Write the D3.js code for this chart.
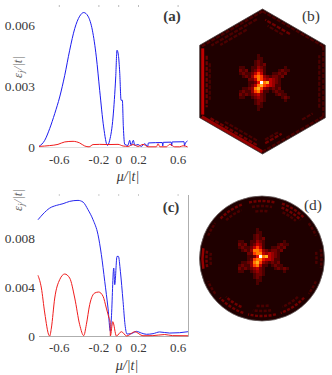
<!DOCTYPE html>
<html><head><meta charset="utf-8">
<script src="https://cdnjs.cloudflare.com/ajax/libs/d3/7.8.5/d3.min.js"></script>
<style>html,body{margin:0;padding:0;background:#fff}svg{display:block}svg text{font-family:"Liberation Serif","Times New Roman",serif !important;fill:#3a3a3a}</style>
</head><body><svg id="c" width="332" height="375"><defs><filter id="soft" x="-5%" y="-5%" width="110%" height="110%"><feGaussianBlur stdDeviation="0.4"/></filter></defs></svg>
<script>
const muBlueA=[-.80,-.742,-.692,-.641,-.591,-.54,-.49,-.439,-.389,-.348,-.305,-.261,-.221,-.187,-.147,-.109,-.086,-.052,-.025,-.012,.002,.015,.029,.042,.052,.066,.099,.116,.13,.153,.167,.2,.234,.268,.298,.305,.445,.45,.455,.535,.54,.545,.665,.67,.675,.70];
const blueA=[.00003,.00033,.00091,.00165,.00247,.00354,.00478,.00585,.00646,.00664,.00646,.00577,.00445,.0028,.00099,.00008,.00033,.00148,.00346,.00478,.00453,.00371,.00231,.00231,.00099,.00013,.00008,.00033,.00008,.00033,.00008,.00012,.00003,.00016,.00003,.0002,.00022,.00005,.00023,.00024,.00005,.00025,.00026,.00005,.00015,.0003];
const muRedA=[-.80,-.692,-.608,-.54,-.456,-.389,-.338,-.294,-.254,-.187,-.103,-.002,.049,.099,.15,.2,.251,.301,.386,.403,.42,.487,.52,.571,.621,.655,.7];
const redA=[.00003,.00007,.00013,.00025,.00028,.0002,.00005,.00001,.00012,.00013,.00012,.00013,.00005,.00003,.00012,.00003,.00013,.00001,.00001,.00016,.00001,.00001,.00013,.00001,.00001,.00006,.00001];
const muBlueC=[-.81,-.759,-.692,-.625,-.557,-.49,-.406,-.355,-.305,-.254,-.204,-.17,-.136,-.103,-.079,-.069,-.045,-.035,-.012,.002,.022,.049,.069,.089,.133,.184,.234,.285,.352,.419,.52,.621,.705];
const blueC=[.00949,.00996,.01044,.01066,.0108,.01099,.01107,.01093,.01031,.00949,.00827,.00664,.00446,.00228,.00038,.00147,.00555,.00419,.0065,.0065,.00528,.00283,.00092,.00016,.00019,.00038,.00024,.00014,.00019,.00033,.00024,.00027,.00035];
const muRedC=[-.81,-.776,-.742,-.699,-.692,-.675,-.641,-.591,-.54,-.49,-.439,-.389,-.348,-.322,-.288,-.237,-.197,-.153,-.12,-.093,-.082,-.079,-.055,-.018,.032,.086,.167,.25,.35,.47,.55,.705];
const redC=[.00495,.00392,.00188,.00005,0,.00065,.0031,.0046,.00506,.00473,.0031,.00092,.00003,.00092,.00256,.00351,.00359,.00324,.00228,.00147,.00117,0,.00117,0,.00035,0,.00035,.00002,.00003,.00012,.00003,.00002];
const xTicks=[-.6,-.2,0,.2,.6];
const yTicksA=[0,.003,.006];
const yTicksC=[0,.004,.008];
const yTickLabelsA=["0","0.003","0.006"];
const yTickLabelsC=["0","0.004","0.008"];
const starB=[
"00000000000000000000",
"00000000100000000000",
"00000000110000000000",
"00000001210000000000",
"00000001212000000000",
"00110011321000000100",
"00212012431000012110",
"00121124641001121200",
"00012136763212212000",
"00000224764343210000",
"00000112597843210000",
"00000124786543110000",
"00011237863212120000",
"00121136741101211000",
"00212123421000121100",
"00110012321000001210",
"00000001221000000100",
"00000001210000000000",
"00000000110000000000",
"00000000100000000000"];
const starD=[
"00000000100000000000",
"00000000110000000000",
"00000001210000000000",
"00000001212000000000",
"00110011321000000100",
"00212012431000012110",
"00121124641001121200",
"00012137763212212000",
"00000226774343210000",
"00000112597843210000",
"00000126775443110000",
"00011237863212120000",
"00121136741101211000",
"00212123421000121210",
"00110012321000000100",
"00000001221000000000",
"00000001210000000000",
"00000000110000000000",
"00000000100000000000",
"00000000000000000000"];
// side, from, to, depth(px), level
const hexSide=[[0,.02,.98,3,4],[0,.1,.9,7,2],[0,.2,.8,10,1],[1,0,1,2,3],[1,.1,.9,5,2],[1,.3,.9,9,1],
[2,0,1,2,1],[2,.05,.35,8,2],[2,.05,.3,11,1],[2,.75,.95,10,1],[3,0,1,2,1],[3,.1,.9,6,1],[4,0,1,2,1],[4,.5,.95,8,2],[4,.6,.9,12,1],[5,0,1,2,1],[5,.1,.9,6,1],[5,.3,.8,10,1]];
// centre angle, half span, depth(px), level
const circPatch=[[180,10,3,3],[180,9,7,2],[180,7,11,1],[0,9,3,1],[0,7,8,1],[57,13,4,2],[57,12,8,2],[57,9,12,1],[90,13,5,2],[90,11,10,1],[90,8,15,1],[123,13,5,2],[123,10,10,1],[237,14,5,2],[237,10,10,2],[270,14,5,2],[270,10,10,1],[270,8,15,1],[303,14,5,2],[303,10,10,1],[150,7,4,1],[210,7,4,1],[30,7,4,1],[330,7,4,1]];
const levels=[0,1,2,3,4,5,6,7,8,9];
const heat=d3.scaleOrdinal().domain(levels).range(["#1f0000","#4c0000","#700000","#960000","#c00000","#e81000","#ff3a00","#ff7a00","#ffb020","#ffffff"]);

const svg=d3.select("#c");
const x=d3.scaleLinear().domain([-.8,.7]).range([39,187.5]);
const yA=d3.scaleLinear().domain([0,.006]).range([147,25.5]);
const yC=d3.scaleLinear().domain([0,.008]).range([336,238]);

function panel(y,yt,ytl,series,labelY,tag,tagX,tagY){
  const g=svg.append("g");
  const ax=d3.axisBottom(x).tickValues(xTicks).tickSize(0).tickPadding(0).tickFormat(d=>d===0?"0":d3.format(".1f")(d).replace("−","-"));
  const ga=g.append("g").attr("transform",`translate(0,${labelY})`).call(ax);
  ga.select(".domain").remove();
  ga.selectAll("text").attr("y",0).attr("dy",0).attr("font-size",13);
  const ay=d3.axisLeft(y).tickValues(yt).tickSize(0).tickPadding(0).tickFormat((d,i)=>ytl[i]);
  const gy=g.append("g").attr("transform","translate(35,0)").call(ay);
  gy.select(".domain").remove();
  gy.selectAll("text").attr("font-size",13.4);
  series.forEach(s=>{
    g.append("path").datum(d3.zip(s.mu,s.v)).attr("fill","none").attr("stroke",s.c).attr("stroke-width",1).attr("stroke-linejoin","round")
     .attr("d",d3.line().curve(d3.curveMonotoneX).x(d=>x(d[0])).y(d=>y(d[1])));
  });
  g.append("text").attr("x",tagX).attr("y",tagY).attr("font-size",15).attr("font-weight","bold").attr("text-anchor","middle").text(tag);
}
function eps(cx,cy){
  const t=svg.append("text").attr("transform",`translate(${cx},${cy}) rotate(-90)`).attr("text-anchor","middle").attr("font-size",13).attr("font-style","italic").style("fill","#666");
  t.append("tspan").text("ε");
  t.append("tspan").attr("font-size",9).attr("dy",2).text("j");
  t.append("tspan").attr("dy",-2).text("/|t|");
}
function mu(cx,cy){
  svg.append("text").attr("x",cx).attr("y",cy).attr("text-anchor","middle").attr("font-size",14).attr("font-style","italic").text("μ/|t|");
}
const topAxis=d3.axisTop(x).tickValues(xTicks).tickSize(2).tickFormat("");
const ta=svg.append("g").attr("transform","translate(0,7)").call(topAxis);
ta.select(".domain").remove(); ta.selectAll("line").attr("stroke","#bbb");
const ta2=svg.append("g").attr("transform","translate(0,196)").call(topAxis);
ta2.select(".domain").remove(); ta2.selectAll("line").attr("stroke","#ccc");
svg.append("path").attr("d",d3.line()([[x.range()[0],yC(0)+.5],[x.range()[1]+1,yC(0)+.5],[x.range()[1]+1,195]])).attr("fill","none").attr("stroke","#999").attr("stroke-width",.8);
svg.append("line").attr("x1",39).attr("x2",188).attr("y1",yA(0)+.5).attr("y2",yA(0)+.5).attr("stroke","#ccc").attr("stroke-width",.6);

panel(yA,yTicksA,yTickLabelsA,[{mu:muBlueA,v:blueA,c:"#1c1cf0"},{mu:muRedA,v:redA,c:"#f01c1c"}],164,"(a)",172,21);
panel(yC,yTicksC,yTickLabelsC,[{mu:muBlueC,v:blueC,c:"#2626ee"},{mu:muRedC,v:redC,c:"#f01c1c"}],352,"(c)",171,212);
eps(22,67); eps(22,200); mu(128,181); mu(127,370);

function star(grid,cx,cy,layer){
  const n=grid.length, cs=3;
  const bx=d3.scaleBand().domain(d3.range(n)).range([cx-n*cs/2,cx+n*cs/2]);
  const by=d3.scaleBand().domain(d3.range(n)).range([cy-n*cs/2,cy+n*cs/2]);
  grid.forEach((row,r)=>{
    layer.append("g").selectAll("rect").data(row.split("").map((v,i)=>({v:+v,i})).filter(d=>d.v>0)).join("rect")
      .attr("x",d=>bx(d.i)).attr("y",by(r)).attr("width",bx.bandwidth()).attr("height",by.bandwidth()).attr("fill",d=>heat(d.v));
  });
}
// (b) hexagon
const hc=[262.5,81.5], hR=72.5;
const ang=d3.scaleLinear().domain([0,6]).range([Math.PI*5/6,Math.PI*5/6+Math.PI*2]);
function hexPt(i,rad){const a=-ang(i%6); return [hc[0]+rad*Math.cos(a),hc[1]+rad*Math.sin(a)];}
const hexPts=d3.range(6).map(i=>hexPt(i,hR));
svg.append("polygon").attr("points",hexPts.join(" ")).attr("fill",heat(0)).attr("stroke","#4a3a3a").attr("stroke-width",.8);
const hexLayer=svg.append("g").attr("filter","url(#soft)");
hexSide.forEach(([s,a,b,dep,l])=>{
  const rad=hR-dep/Math.cos(Math.PI/6);
  const p=hexPt(s,rad),q=hexPt(s+1,rad);
  const L=t=>[p[0]+(q[0]-p[0])*t,p[1]+(q[1]-p[1])*t];
  hexLayer.append("path").attr("d",d3.line()([L(a),L(b)])).attr("stroke",heat(l)).attr("stroke-width",l>=3?3:2.2).attr("stroke-dasharray",l>=3?null:"4 1.5");
});
star(starB,263,81,hexLayer);
svg.append("text").attr("x",311).attr("y",21).attr("font-size",15.5).attr("text-anchor","middle").text("(b)");
// (d) circle
const dc=[262,258.5], dR=62.5;
svg.append("circle").attr("cx",dc[0]).attr("cy",dc[1]).attr("r",dR).attr("fill",heat(0)).attr("stroke","#6a6060").attr("stroke-width",.8);
const circLayer=svg.append("g").attr("filter","url(#soft)");
circPatch.forEach(([c,h,dep,l])=>{
  const r=dR-dep;
  const pth=d3.path();
  pth.arc(dc[0],dc[1],r,-(c+h)*Math.PI/180,-(c-h)*Math.PI/180);
  circLayer.append("path").attr("d",pth.toString()).attr("fill","none").attr("stroke",heat(l)).attr("stroke-width",2.4).attr("stroke-dasharray",l>=3?null:"3 1.5");
});
star(starD,262,258,circLayer);
svg.append("text").attr("x",313).attr("y",210).attr("font-size",15.5).attr("text-anchor","middle").text("(d)");
</script></body></html>
